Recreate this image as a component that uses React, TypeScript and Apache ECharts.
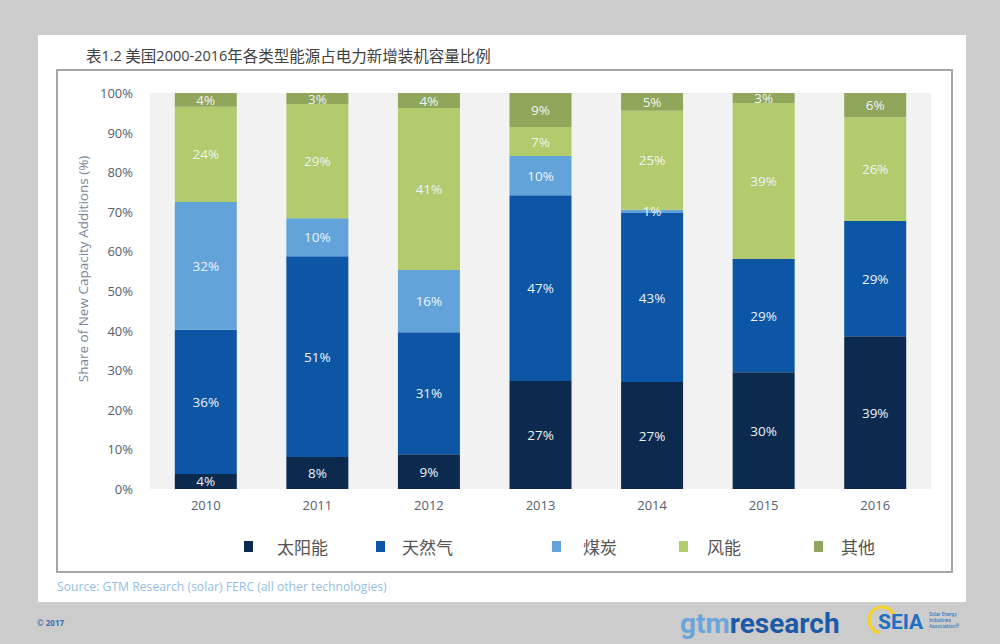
import React, { useEffect, useRef } from "react";
import * as echarts from "echarts";

const years = ["2010", "2011", "2012", "2013", "2014", "2015", "2016"];
const solar = [3.8, 8.1, 8.8, 27.3, 27.0, 29.5, 38.6];
const gas = [36.4, 50.7, 30.8, 46.9, 42.7, 28.6, 29.1];
const coal = [32.3, 9.6, 15.7, 9.9, 0.8, 0, 0];
const wind = [24.0, 28.8, 40.9, 7.3, 25.0, 39.4, 26.2];
const other = [3.5, 2.8, 3.8, 8.6, 4.6, 2.5, 6.1];

const seriesNames = ["太阳能", "天然气", "煤炭", "风能", "其他"];
const seriesColors = ["#0c2a4e", "#0c56a5", "#62a4d9", "#b2cb6d", "#8fa65b"];
const seriesData = [solar, gas, coal, wind, other];

const yTicks = [0, 10, 20, 30, 40, 50, 60, 70, 80, 90, 100];

const titleText = "表1.2 美国2000-2016年各类型能源占电力新增装机容量比例";
const yAxisName = "Share of New Capacity Additions (%)";
const sourceText = "Source: GTM Research (solar) FERC (all other technologies)";

export default function App() {
  const ref = useRef<HTMLDivElement>(null);

  useEffect(() => {
    if (!ref.current) return;
    const chart = echarts.init(ref.current, undefined, { renderer: "svg" });

    const legendLefts = [239, 371, 547, 674, 809];
    const legendPads = [19, 12, 17, 14, 13];

    const richTitle = titleText
      .replace(/([0-9.\-]+)/g, "{l|$1}")
      .split(/(\{l\|[^}]*\})/)
      .map((s) => (s.startsWith("{l|") ? s : s.length ? `{c|${s}}` : ""))
      .join("");

    const option: any = {
      animation: false,
      backgroundColor: "#cccccc",
      grid: {
        left: 150,
        right: 69,
        top: 93,
        bottom: 155,
        show: true,
        backgroundColor: "#f2f2f2",
        borderWidth: 0,
      },
      legend: seriesNames.map((n, i) => ({
        data: [n],
        left: legendLefts[i],
        top: 533,
        itemWidth: 9,
        itemHeight: 11,
        icon: "rect",
        selectedMode: false,
        textStyle: {
          fontFamily: "Noto Sans CJK SC",
          fontSize: 17,
          color: "#555555",
          padding: [0, 0, 0, legendPads[i]],
        },
      })),
      xAxis: {
        type: "category",
        data: years,
        axisLine: { show: false },
        axisTick: { show: false },
        axisLabel: {
          color: "#56606e",
          fontFamily: "Open Sans",
          fontSize: 13,
          margin: 9,
        },
      },
      yAxis: {
        type: "value",
        min: yTicks[0],
        max: yTicks[yTicks.length - 1],
        interval: 10,
        axisLine: { show: false },
        axisTick: { show: false },
        splitLine: { show: false },
        axisLabel: {
          formatter: "{value}%",
          color: "#56606e",
          fontFamily: "Open Sans",
          fontSize: 13,
          margin: 17,
        },
      },
      series: seriesNames.map((n, i) => ({
        name: n,
        type: "bar",
        stack: "total",
        barWidth: 62,
        data: seriesData[i],
        itemStyle: { color: seriesColors[i] },
        label: {
          show: true,
          position: "inside",
          color: "#eef3f8",
          fontFamily: "Open Sans",
          fontSize: 13.5,
          formatter: (p: any) => (p.value > 0 ? `${Math.round(p.value)}%` : ""),
        },
      })),
      graphic: [
        {
          type: "rect",
          z: -10,
          shape: { x: 38, y: 35, width: 928, height: 567 },
          style: { fill: "#ffffff" },
        },
        {
          type: "rect",
          z: -9,
          shape: { x: 57, y: 70, width: 895, height: 502 },
          style: { fill: "none", stroke: "#a6a6a6", lineWidth: 2 },
        },
        {
          type: "text",
          x: 86,
          y: 55,
          style: {
            text: richTitle,
            verticalAlign: "middle",
            fill: "#404040",
            rich: {
              c: { fontFamily: "Noto Sans CJK SC", fontSize: 15.5, fill: "#404040" },
              l: { fontFamily: "Open Sans", fontSize: 14.5, fill: "#404040" },
            },
          },
        },
        {
          type: "text",
          x: 83,
          y: 269,
          rotation: Math.PI / 2,
          style: {
            text: yAxisName,
            align: "center",
            verticalAlign: "middle",
            fill: "#7a8594",
            fontFamily: "Open Sans",
            fontSize: 13.5,
          },
        },
        {
          type: "text",
          x: 57,
          y: 586,
          style: {
            text: sourceText,
            verticalAlign: "middle",
            fill: "#95bde3",
            fontFamily: "Open Sans",
            fontSize: 12.2,
          },
        },
        {
          type: "text",
          x: 37,
          y: 622,
          style: {
            text: "© 2017",
            verticalAlign: "middle",
            fill: "#3b6fb2",
            fontFamily: "Open Sans",
            fontWeight: "bold",
            fontSize: 8,
          },
        },
        {
          type: "text",
          x: 680,
          y: 623,
          style: {
            text: "{a|gtm}{b|research}",
            verticalAlign: "middle",
            rich: {
              a: { fontFamily: "Roboto", fontWeight: "bold", fontSize: 28, fill: "#6aa6dc" },
              b: { fontFamily: "Roboto", fontWeight: "bold", fontSize: 28, fill: "#1d5aa6" },
            },
          },
        },
        {
          type: "arc",
          shape: { cx: 882, cy: 620, r: 13, startAngle: Math.PI * 0.55, endAngle: Math.PI * 1.95 },
          style: { stroke: "#f4d22a", lineWidth: 3, fill: "none" },
        },
        {
          type: "text",
          x: 878,
          y: 622,
          style: {
            text: "SEIA",
            verticalAlign: "middle",
            fill: "#1f6fc2",
            fontFamily: "Roboto",
            fontWeight: "bold",
            fontSize: 21,
          },
        },
        {
          type: "text",
          x: 929,
          y: 620,
          style: {
            text: "Solar Energy\nIndustries\nAssociation®",
            verticalAlign: "middle",
            fill: "#1f6fc2",
            fontFamily: "Roboto",
            fontSize: 5,
            lineHeight: 6,
          },
        },
      ],
    };

    chart.setOption(option);
    return () => chart.dispose();
  }, []);

  return (
    <div
      ref={ref}
      style={{ position: "absolute", left: 0, top: 0, width: 1000, height: 644 }}
    />
  );
}
